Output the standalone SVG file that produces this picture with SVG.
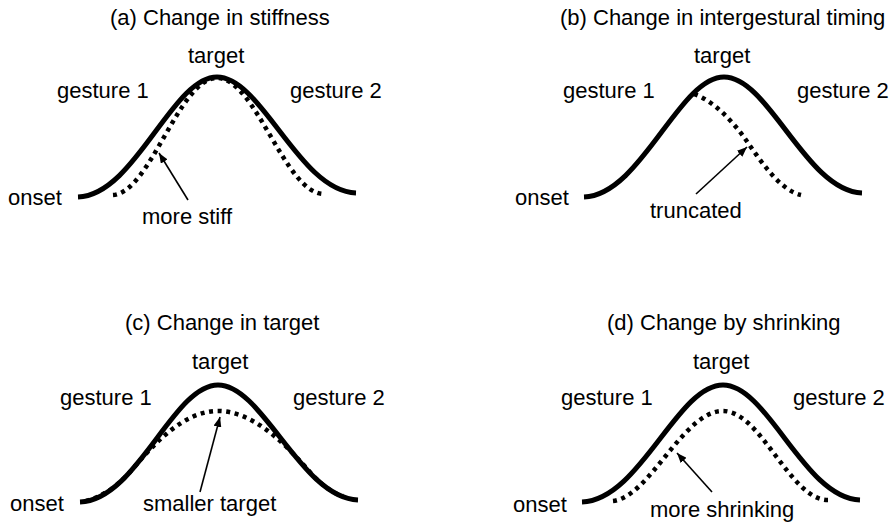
<svg xmlns="http://www.w3.org/2000/svg" width="890" height="524" viewBox="0 0 890 524">
<style>
text{font-family:"Liberation Sans",Arial,sans-serif;font-size:22px;fill:#000}
.solid{fill:none;stroke:#000;stroke-width:5}
.dot{fill:none;stroke:#000;stroke-width:4.5;stroke-dasharray:4 4.6}
.arr{fill:none;stroke:#000;stroke-width:1.6;marker-end:url(#ah)}
</style>
<defs>
<marker id="ah" viewBox="0 0 10 8" markerWidth="10" markerHeight="8" refX="10" refY="4" orient="auto" markerUnits="userSpaceOnUse">
<path d="M0,0 L10,4 L0,8 z" fill="#000"/>
</marker>
</defs>
<rect width="890" height="524" fill="#fff"/>
<g id="panel-a">
<text x="110" y="25">(a) Change in stiffness</text>
<text x="188" y="63">target</text>
<text x="57" y="98">gesture 1</text>
<text x="290" y="98">gesture 2</text>
<text x="8" y="205">onset</text>
<text x="142" y="224">more stiff</text>
<path class="solid" d="M78 197 C135 195 172 77 217 77 C262 77 299 191 356 193"/>
<path class="dot" d="M113 195 C151 192 179 78 217 78 C256 78 285 194 324 194"/>
</g>
<g id="panel-b">
<text x="560" y="25">(b) Change in intergestural timing</text>
<text x="694" y="63">target</text>
<text x="563" y="98">gesture 1</text>
<text x="797" y="98">gesture 2</text>
<text x="515" y="205">onset</text>
<text x="650" y="218">truncated</text>
<path class="solid" d="M584 197 C641 195 679 77 724 77 C769 77 806 191 862 193"/>
<path class="dot" d="M694 94 C712 100 732 120 746 140 C762 163 780 190 801 195"/>
</g>
<g id="panel-c">
<text x="125" y="330">(c) Change in target</text>
<text x="192" y="369">target</text>
<text x="60" y="405">gesture 1</text>
<text x="293" y="405">gesture 2</text>
<text x="10" y="511">onset</text>
<text x="143" y="511">smaller target</text>
<path class="solid" d="M80 502 C137 500 173 385 218 385 C263 385 301 498 358 500"/>
<path class="dot" d="M86 501 C100 498 118 486 130 472 C156 441 185 411 218 411 C251 411 282 440 308 470 C320 484 332 493 343 496"/>
</g>
<g id="panel-d">
<text x="607" y="330">(d) Change by shrinking</text>
<text x="693" y="369">target</text>
<text x="561" y="405">gesture 1</text>
<text x="793" y="405">gesture 2</text>
<text x="513" y="512">onset</text>
<text x="650" y="517">more shrinking</text>
<path class="solid" d="M582 502 C640 500 677 385 723 385 C768 385 804 498 860 500"/>
<path class="dot" d="M613 501 C650 497 683 411 723 411 C761 411 790 500 828 500"/>
</g>
<g id="connectors">
<line class="arr" x1="188" y1="200" x2="159" y2="153"/>
<line class="arr" x1="696" y1="194" x2="747" y2="147"/>
<line class="arr" x1="200" y1="492" x2="220" y2="417"/>
<line class="arr" x1="712" y1="492" x2="677" y2="453"/>
</g>
</svg>
